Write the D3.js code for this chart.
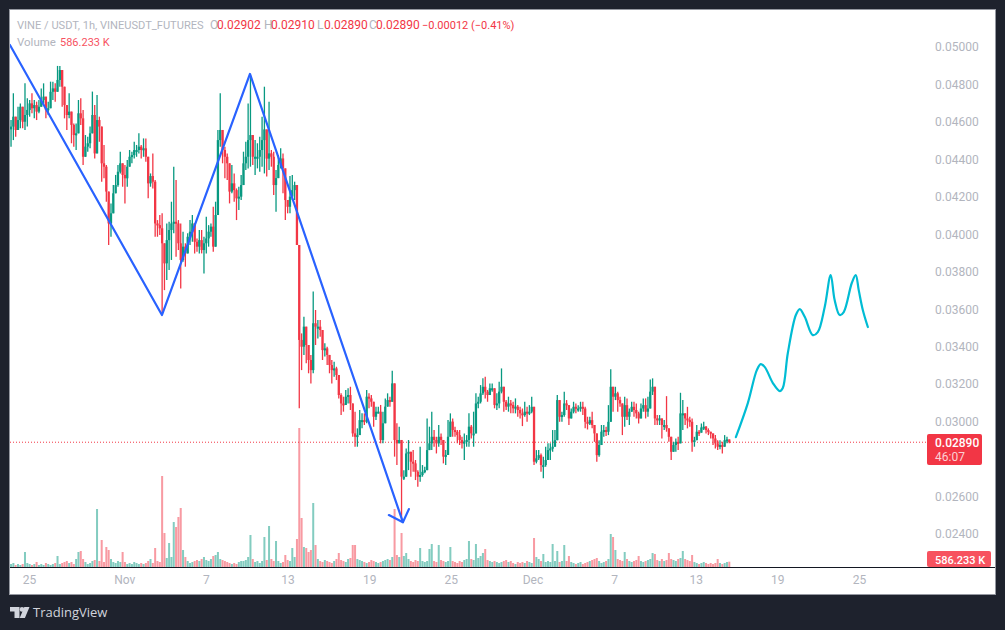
<!DOCTYPE html>
<html>
<head>
<meta charset="utf-8">
<script src="https://cdnjs.cloudflare.com/ajax/libs/d3/7.8.5/d3.min.js"></script>
<style>
  html, body { margin: 0; padding: 0; background: #1e222d; }
  svg { display: block; }
  text { font-family: Roboto, "Noto Sans", sans-serif; }
</style>
</head>
<body>
<svg id="chart" width="1005" height="630"></svg>
<script>
// prices are in units of 0.00001 USDT, candles are bucketed (about 4h each)
const highs = [
  4610,4753,4584,4681,4699,4681,4806,4726,4717,4753,4717,4708,4717,4779,4806,4681,4708,4815,4815,4806,
  4899,4899,4842,4753,4690,4753,4646,4592,4592,4717,4726,4664,4530,4521,4575,4762,4690,4744,4628,4557,
  4477,4370,4174,4165,4263,4317,4370,4441,4361,4370,4397,4450,4441,4494,4477,4539,4477,4512,4512,4414,
  4325,4432,4290,4076,4103,4112,3952,4058,4067,4174,4361,4290,4076,4058,4014,3952,4005,4076,4103,4023,
  3978,4023,4023,3987,4094,4049,4058,4147,4174,4557,4753,4486,4468,4432,4308,4370,4325,4245,4254,4317,
  4441,4494,4699,4850,4512,4503,4486,4521,4628,4788,4512,4708,4450,4441,4343,4423,4459,4432,4352,4183,
  4311,4317,4281,4236,3943,
  3471,3560,3507,3409,3356,3694,3596,3542,3542,3427,3418,3400,3356,3329,3320,3293,3231,3151,3133,3169,
  3178,3186,3062,3053,2964,3062,3044,3044,3169,3151,3142,3080,3080,3080,3089,3053,3124,3151,3133,3272,
  3204,2991,2973,2902,2741,2857,2902,2830,2848,2795,2741,2866,2768,2759,3017,2973,3053,2955,2919,2982,
  2937,2884,2848,3008,3044,3017,2973,2955,2955,2919,2937,2928,3044,2982,3053,3151,3133,3195,3231,3240,
  3169,3204,3204,3106,3151,3213,3284,3142,3115,3133,3115,3106,3124,3089,
  3079,3070,3106,3079,3088,3133,3035,2848,2848,2830,2812,2866,2884,2884,2955,2955,3142,3097,3053,3160,
  3115,3079,3070,3106,3097,3088,3106,3106,3079,3026,3026,3053,2982,2910,2901,2982,2982,2973,3088,3279,
  3186,3186,3160,3133,3070,3133,3124,3070,3106,3106,3097,3053,3097,3124,3124,3133,3225,3231,3070,3035,
  3035,3017,3008,3136,2964,2901,2892,2910,2919,3154,3115,3035,3079,3026,3017,2919,2982,2955,2990,2999,
  2976,2964,2946,2937,2928,2901,2901,2892,2928,2919,2905
];
const lows = [
  4468,4503,4521,4566,4566,4566,4557,4575,4628,4646,4619,4610,4646,4681,4699,4619,4637,4673,4717,4708,
  4797,4788,4681,4619,4557,4619,4486,4468,4450,4548,4584,4370,4423,4441,4459,4592,4405,4432,4494,4281,
  4299,4174,3943,3987,4165,4219,4254,4325,4254,4165,4254,4379,4379,4405,4414,4432,4405,4414,4388,4192,
  4254,4245,3987,3987,3996,3569,3702,3756,3809,3863,4005,3880,3916,3711,3854,3827,3898,3943,3960,3898,
  3907,3898,3898,3791,3898,3934,3987,3907,3934,4317,4468,4379,4299,4290,4165,4219,4174,4076,4130,4183,
  4299,4343,4352,4361,4370,4317,4352,4334,4361,4325,4308,4343,4361,4210,4121,4308,4352,4219,4076,4112,
  4112,4183,4183,3943,3071,
  3275,3356,3311,3258,3204,3258,3409,3444,3453,3329,3347,3302,3258,3204,3240,3222,3124,3035,3053,3106,
  3097,3062,2919,2866,2866,2955,2964,2982,2991,3071,3080,2973,3008,3044,2884,2884,3008,3080,3080,3142,
  2813,2768,2884,2466,2688,2759,2741,2706,2732,2688,2652,2679,2706,2724,2777,2848,2848,2866,2830,2866,
  2875,2777,2768,2866,2964,2919,2919,2884,2875,2857,2795,2866,2866,2910,2866,3044,3071,3097,3142,3124,
  3106,3151,3160,3071,3062,3071,3151,3053,3062,3053,3044,3044,3044,3026,
  3017,2976,3026,2999,3035,3044,2768,2777,2795,2732,2697,2759,2812,2795,2839,2884,2955,2999,2999,3026,
  3062,2982,3017,3044,3044,3053,3053,3035,2964,2958,2982,2964,2892,2786,2812,2910,2919,2923,2928,3026,
  3053,3115,3053,3079,2928,2973,3008,2982,3062,3026,3017,2990,3044,3053,3017,3026,3106,3142,2982,2982,
  2982,2910,2955,2946,2892,2795,2848,2839,2848,2919,2955,2982,2964,2973,2839,2866,2919,2923,2946,2955,
  2937,2928,2910,2875,2857,2848,2852,2830,2875,2884,2884
];
const closes = [
  4575,4628,4557,4610,4681,4601,4637,4664,4699,4673,4690,4655,4681,4717,4735,4664,4673,4761,4779,4761,
  4824,4877,4788,4690,4637,4655,4584,4530,4539,4646,4619,4414,4468,4486,4539,4637,4432,4610,4575,4379,
  4361,4228,4058,4112,4219,4263,4334,4379,4317,4299,4361,4414,4423,4450,4450,4468,4450,4459,4414,4272,
  4311,4281,4058,4049,4032,3952,3845,3969,4023,4058,4067,4058,3952,3863,3934,3898,3987,4014,4058,3960,
  3934,3969,3916,3952,3978,4014,4041,3934,4103,4503,4557,4450,4414,4379,4228,4272,4236,4192,4201,4263,
  4379,4414,4503,4530,4414,4414,4414,4450,4503,4560,4404,4432,4414,4263,4300,4370,4405,4352,4183,4147,
  4201,4236,4263,3943,3436,
  3400,3507,3409,3329,3275,3525,3507,3507,3489,3382,3391,3356,3302,3275,3284,3249,3142,3097,3089,3133,
  3142,3097,2937,2919,2928,3008,3008,3000,3133,3124,3106,3026,3053,3053,2902,2991,3080,3115,3106,3204,
  2902,2884,2902,2706,2706,2830,2839,2786,2777,2732,2706,2715,2732,2741,2848,2884,2919,2902,2884,2919,
  2902,2813,2822,2919,3000,2955,2946,2928,2902,2884,2893,2902,2973,2937,2937,3097,3106,3151,3186,3160,
  3142,3178,3178,3089,3097,3160,3186,3106,3080,3097,3089,3071,3080,3062,
  3044,3035,3053,3044,3053,3079,2786,2804,2821,2768,2768,2795,2848,2857,2866,2901,3115,3026,3035,3097,
  3088,3017,3053,3079,3070,3070,3079,3070,2999,2990,3008,2982,2937,2821,2875,2946,2955,2946,2999,3186,
  3133,3151,3115,3097,3026,3088,3026,3053,3079,3062,3044,3017,3070,3088,3053,3070,3160,3186,3017,3008,
  3017,2982,2982,2964,2919,2839,2875,2892,2884,3044,3044,3017,3008,2999,2892,2901,2946,2941,2969,2973,
  2955,2946,2937,2910,2884,2866,2875,2866,2901,2905,2890
];
// volume per bucket, thousands
const volumes = [
  330,440,220,330,220,330,1650,440,330,220,
  330,550,220,330,220,440,330,220,330,440,
  1210,330,440,550,660,440,550,330,880,1650,
  1760,880,550,330,440,660,770,6380,660,2970,
  550,2200,1870,880,550,440,660,550,1650,550,
  330,440,330,550,440,330,440,330,440,660,
  880,440,2090,660,550,10010,3740,990,2640,1100,
  4950,4400,5500,6490,1870,1100,660,440,550,660,
  770,660,880,1100,770,660,880,1210,1320,1650,
  880,770,660,550,440,330,440,330,550,660,
  660,770,1100,3520,880,550,660,440,660,3300,
  770,4510,880,660,2860,660,440,550,1320,770,
  660,2090,1100,3080,15290,5390,2200,2090,1650,1870,
  7040,2420,880,660,550,770,660,550,440,660,
  880,1540,770,660,550,880,990,2420,2420,880,
  770,660,550,440,550,770,660,550,440,550,
  660,770,880,770,1100,6380,1320,1100,3740,1210,
  1540,880,660,550,770,660,2090,660,550,660,
  1980,2530,660,550,2420,770,660,550,660,2200,
  660,550,440,660,550,770,880,2860,880,770,
  2530,990,1210,1540,1980,770,660,550,660,550,
  440,550,660,770,550,660,440,330,550,440,
  550,440,660,550,440,3190,1100,880,660,1430,
  550,660,550,2530,660,1760,550,660,2420,660,
  1210,550,440,330,440,550,330,440,550,660,
  770,880,990,660,440,550,660,880,3630,3300,
  1870,880,770,660,1650,880,660,550,660,770,
  1210,660,550,660,770,880,1540,1430,770,660,
  880,660,770,1540,880,770,660,880,990,1760,
  880,770,660,1320,550,440,330,440,550,440,
  330,440,330,440,880,440,330,440,550,586
];

const priceTicks = [5000,4800,4600,4400,4200,4000,3800,3600,3400,3200,3000,2600,2400];
const dateTicks = ["2025-10-25","2025-11-01","2025-11-07","2025-11-13","2025-11-19","2025-11-25",
  "2025-12-01","2025-12-07","2025-12-13","2025-12-19","2025-12-25"];
const dateLabels = ["25","Nov","7","13","19","25","Dec","7","13","19","25"];

// drawings, days counted from Oct 25
const zigzagDays = [-1.4, 9.77, 16.24, 27.48];
const zigzagPrices = [5011, 3569, 4856, 2463];
const arrowDays = [26.45, 27.48, 27.92];
const arrowPrices = [2501, 2463, 2533];
const forecastDays = [51.95,52.83,53.49,53.78,54.08,54.67,55.18,55.40,55.77,56.36,56.65,57.02,
  57.60,57.97,58.48,58.92,59.21,59.58,59.88,60.47,60.76,60.98,61.28,61.65];
const forecastPrices = [2917,3099,3275,3307,3291,3206,3163,3179,3366,3569,3601,3558,
  3462,3478,3612,3782,3649,3569,3585,3740,3782,3702,3596,3505];

const lastPrice = 2890;
const green = "#089981", red = "#f23645", gray = "#b2b5be";

const dayMs = 864e5;
const origin = Date.UTC(2025, 9, 25);
const dayToDate = d => new Date(origin + d * dayMs);
const firstDay = -1.32, stepDays = 4.1 / 24;

const svg = d3.select("#chart");

// pane
svg.append("rect").attr("x", 9.5).attr("y", 9.5).attr("width", 986).attr("height", 585)
  .attr("fill", "#fff").attr("stroke", "#9598a1");

const x = d3.scaleUtc()
  .domain([new Date(origin), new Date(Date.UTC(2025, 11, 25))])
  .range([29, 859]);
const y = d3.scaleLinear().domain([5000, 2400]).range([47, 534]);
const vol = d3.scaleLinear().domain([0, 15290]).range([567, 428]);

const candles = closes.map((c, i) => {
  const open = i ? closes[i - 1] : 4560;
  return {
    time: dayToDate(firstDay + i * stepDays),
    open, close: c, volume: volumes[i],
    high: Math.max(highs[i], open, c),
    low: Math.min(lows[i], open, c)
  };
});
const colorOf = d => d.close >= d.open ? green : red;

svg.append("defs").append("clipPath").attr("id", "pane")
  .append("rect").attr("x", 10).attr("y", 10).attr("width", 917).attr("height", 557);
const plot = svg.append("g").attr("clip-path", "url(#pane)");

// volume first, it sits behind the candles
plot.append("g").selectAll("rect").data(candles).join("rect")
  .attr("x", d => x(d.time) - 1)
  .attr("width", 2)
  .attr("y", d => vol(d.volume))
  .attr("height", d => vol(0) - vol(d.volume))
  .attr("fill", colorOf)
  .attr("opacity", 0.5);

// last price line
plot.append("line")
  .attr("x1", 10).attr("x2", 927).attr("y1", y(lastPrice)).attr("y2", y(lastPrice))
  .attr("stroke", red).attr("stroke-dasharray", "1 2");

const candle = plot.append("g").selectAll("g").data(candles).join("g");
candle.append("line")
  .attr("x1", d => x(d.time)).attr("x2", d => x(d.time))
  .attr("y1", d => y(d.high)).attr("y2", d => y(d.low))
  .attr("stroke", colorOf).attr("stroke-width", 1.3);
candle.append("rect")
  .attr("x", d => x(d.time) - 1.15)
  .attr("width", 2.3)
  .attr("y", d => y(Math.max(d.open, d.close)))
  .attr("height", d => Math.max(2, Math.abs(y(d.open) - y(d.close))))
  .attr("fill", colorOf);

// drawings
const drawLine = (days, prices, color, curve) => {
  const line = d3.line().x(d => x(dayToDate(d[0]))).y(d => y(d[1]));
  if (curve) line.curve(curve);
  plot.append("path")
    .datum(days.map((d, i) => [d, prices[i]]))
    .attr("d", line)
    .attr("fill", "none")
    .attr("stroke", color)
    .attr("stroke-width", 2.2)
    .attr("stroke-linejoin", "round")
    .attr("stroke-linecap", "round");
};
drawLine(zigzagDays, zigzagPrices, "#2962ff");
drawLine(arrowDays, arrowPrices, "#2962ff");
drawLine(forecastDays, forecastPrices, "#00bcd4", d3.curveCatmullRom.alpha(0.5));

// baseline under the volume
svg.append("line").attr("x1", 10).attr("x2", 995).attr("y1", 567.5).attr("y2", 567.5)
  .attr("stroke", "#131722");

// axes
const priceAxis = d3.axisRight(y).tickValues(priceTicks)
  .tickSize(0).tickPadding(0).tickFormat(d => (d / 1e5).toFixed(5));
svg.append("g").attr("transform", "translate(935,0)").call(priceAxis)
  .call(g => g.select(".domain").remove())
  .selectAll("text").attr("fill", gray).style("font-size", "12px").style("font-family", "Roboto");

const dateAxis = d3.axisBottom(x).tickValues(dateTicks.map(d => new Date(d + "T00:00:00Z")))
  .tickSize(0).tickPadding(0).tickFormat((d, i) => dateLabels[i]);
svg.append("g").attr("transform", "translate(0,575)").call(dateAxis)
  .call(g => g.select(".domain").remove())
  .selectAll("text").attr("fill", gray).style("font-size", "12px").style("font-family", "Roboto");

// header
const header = [
  ["VINE / USDT, 1h, VINEUSDT_FUTURES", 17, 29, gray, 11.1],
  ["O", 210, 29, gray, 12], ["0.02902", 217, 29, red, 12],
  ["H", 264, 29, gray, 12], ["0.02910", 271, 29, red, 12],
  ["L", 317, 29, gray, 12], ["0.02890", 324, 29, red, 12],
  ["C", 369, 29, gray, 12], ["0.02890", 376, 29, red, 12],
  ["\u22120.00012 (\u22120.41%)", 422, 29, red, 11],
  ["Volume", 17, 46, gray, 11.5], ["586.233 K", 60, 46, "#f7525f", 11]
];
svg.append("g").selectAll("text").data(header).join("text")
  .attr("x", d => d[1]).attr("y", d => d[2]).attr("fill", d => d[3])
  .style("font-size", d => d[4] + "px").text(d => d[0]);

// price tags
svg.append("rect").attr("x", 927).attr("y", 434).attr("width", 55).attr("height", 31)
  .attr("rx", 2).attr("fill", red);
svg.append("text").attr("x", 935).attr("y", 447).attr("fill", "#fff")
  .style("font-size", "12px").style("font-weight", 500).text((lastPrice / 1e5).toFixed(5));
svg.append("text").attr("x", 935).attr("y", 461).attr("fill", "#fbd0d4")
  .style("font-size", "12px").text("46:07");
svg.append("rect").attr("x", 927).attr("y", 551).attr("width", 64).attr("height", 16)
  .attr("rx", 2).attr("fill", "#f7525f");
svg.append("text").attr("x", 935).attr("y", 564).attr("fill", "#fff")
  .style("font-size", "11px").style("font-weight", 500).text("586.233 K");

// logo
const logo = svg.append("g").attr("fill", "#d1d4dc");
logo.append("path").attr("d", "M10 607h9.5v11h-5v-6.5H10z");
logo.append("circle").attr("cx", 22).attr("cy", 609.4).attr("r", 2.3);
logo.append("path").attr("d", "M29.5 607l-4.6 11h-5.2l4.6-11z");
svg.append("text").attr("x", 33).attr("y", 617).attr("fill", "#d1d4dc")
  .style("font-size", "13px").style("font-family", "'Open Sans'").text("TradingView");
</script>
</body>
</html>
